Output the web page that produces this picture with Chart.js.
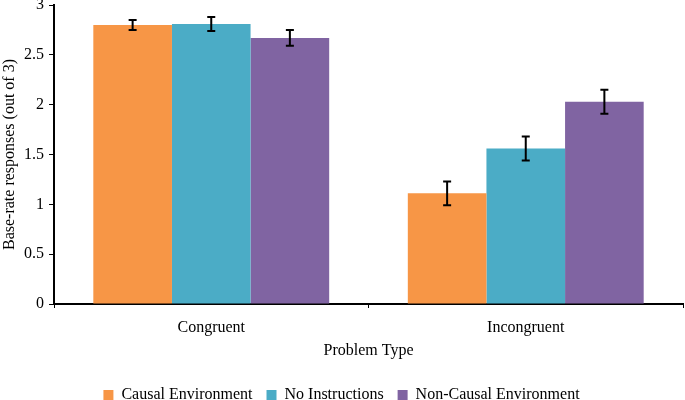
<!DOCTYPE html>
<html>
<head>
<meta charset="utf-8">
<script src="https://cdn.jsdelivr.net/npm/chart.js@4"></script>
<style>
  html, body { margin: 0; padding: 0; background: #fff; }
  #wrap { width: 685px; height: 400px; }
</style>
</head>
<body>
<div id="wrap"><canvas id="chart" width="685" height="400"></canvas></div>
<script>
const categories = ['Congruent', 'Incongruent'];
const seriesNames = ['Causal Environment', 'No Instructions', 'Non-Causal Environment'];
const causalValues = [2.80, 1.11];
const noInstrValues = [2.81, 1.56];
const nonCausalValues = [2.67, 2.03];
const causalErr = [0.05, 0.12];
const noInstrErr = [0.07, 0.12];
const nonCausalErr = [0.08, 0.12];
const yTicks = [0, 0.5, 1, 1.5, 2, 2.5, 3];

const colors = ['#F79646', '#4BACC6', '#8064A2'];
const FONT = 'Liberation Serif, Times New Roman, serif';

const errorBars = {
  id: 'errorBars',
  afterDatasetsDraw(chart) {
    const ctx = chart.ctx;
    const y = chart.scales.y;
    ctx.save();
    ctx.strokeStyle = '#000';
    ctx.lineWidth = 2;
    chart.data.datasets.forEach((ds, i) => {
      const meta = chart.getDatasetMeta(i);
      meta.data.forEach((bar, j) => {
        const v = ds.data[j], e = ds.errors[j];
        const top = y.getPixelForValue(v + e);
        const bot = y.getPixelForValue(v - e);
        const x = bar.x;
        ctx.beginPath();
        ctx.moveTo(x, top); ctx.lineTo(x, bot);
        ctx.moveTo(x - 4, top); ctx.lineTo(x + 4, top);
        ctx.moveTo(x - 4, bot); ctx.lineTo(x + 4, bot);
        ctx.stroke();
      });
    });
    ctx.restore();
  }
};

const values = [causalValues, noInstrValues, nonCausalValues];
const errs = [causalErr, noInstrErr, nonCausalErr];

new Chart(document.getElementById('chart'), {
  type: 'bar',
  data: {
    labels: categories,
    datasets: seriesNames.map((name, i) => ({
      label: name,
      data: values[i],
      errors: errs[i],
      backgroundColor: colors[i],
      borderWidth: 0,
      categoryPercentage: 0.75,
      barPercentage: 1
    }))
  },
  options: {
    responsive: false,
    animation: false,
    layout: { padding: { top: 5, right: 2, left: 0, bottom: -13 } },
    plugins: {
      legend: {
        position: 'bottom',
        labels: {
          color: '#000',
          font: { family: FONT, size: 16 },
          boxWidth: 10,
          boxHeight: 10,
          padding: 14
        }
      },
      tooltip: { enabled: false }
    },
    scales: {
      x: {
        afterFit(scale) { scale.height = 69; },
        grid: { drawOnChartArea: false, color: '#000', tickLength: 4, offset: true },
        border: { color: '#000', width: 2 },
        ticks: { color: '#000', font: { family: FONT, size: 16 }, padding: 10 },
        title: { display: true, text: 'Problem Type', color: '#000', font: { family: FONT, size: 16 }, padding: { top: 0, bottom: 13 } }
      },
      y: {
        min: 0,
        max: 3,
        afterBuildTicks(scale) { scale.ticks = yTicks.map(v => ({ value: v })); },
        afterFit(scale) { scale.width = 54; scale.paddingTop = 0; },
        grid: { drawOnChartArea: false, color: '#000', tickLength: 5 },
        border: { color: '#000', width: 2 },
        ticks: { color: '#000', font: { family: FONT, size: 16 }, padding: 5, callback: v => String(v) },
        title: { display: true, text: 'Base-rate responses (out of 3)', color: '#000', font: { family: FONT, size: 16 }, padding: { top: 0, bottom: 0 } }
      }
    }
  },
  plugins: [errorBars]
});
</script>
</body>
</html>
